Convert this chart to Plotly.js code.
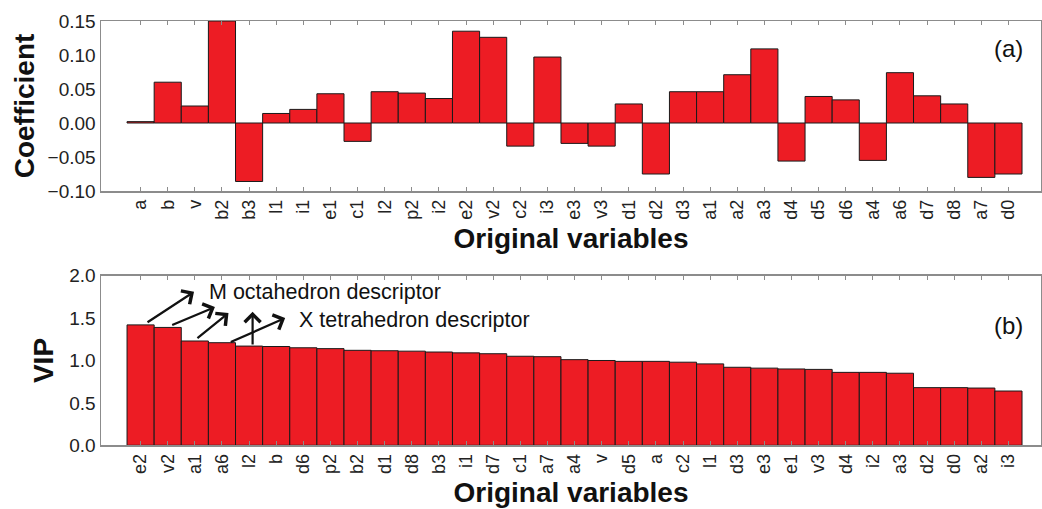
<!DOCTYPE html>
<html>
<head>
<meta charset="utf-8">
<script src="https://cdn.plot.ly/plotly-3.0.1.min.js"></script>
<style>html,body{margin:0;padding:0;background:#fff;}#chart{width:1042px;height:509px;}</style>
</head>
<body>
<div id="chart"></div>
<script>
// Panel (a): regression coefficients
const coefVars = ["a","b","v","b2","b3","l1","i1","e1","c1","l2","p2","i2","e2","v2","c2","i3","e3","v3","d1","d2","d3","a1","a2","a3","d4","d5","d6","a4","a6","d7","d8","a7","d0"];
const coefValues = [0.002,0.060,0.025,0.150,-0.086,0.014,0.020,0.043,-0.027,0.046,0.044,0.036,0.135,0.126,-0.034,0.097,-0.030,-0.034,0.028,-0.075,0.046,0.046,0.071,0.109,-0.056,0.039,0.034,-0.055,0.074,0.040,0.028,-0.080,-0.075];

// Panel (b): VIP scores (sorted)
const vipVars = ["e2","v2","a1","a6","l2","b","d6","p2","b2","d1","d8","b3","i1","d7","c1","a7","a4","v","d5","a","c2","l1","d3","e3","e1","v3","d4","i2","a3","d2","d0","a2","i3"];
const vipValues = [1.42,1.39,1.23,1.21,1.17,1.165,1.15,1.14,1.12,1.115,1.11,1.10,1.09,1.08,1.05,1.045,1.01,1.00,0.99,0.99,0.98,0.96,0.92,0.91,0.90,0.895,0.86,0.86,0.85,0.68,0.68,0.675,0.64];

const barColor = "#ED1C24";
const lineColor = "#8c8c8c";
const fontFam = "Liberation Sans, Arial, sans-serif";

const traces = [
  {type:"bar", x:coefVars, y:coefValues, xaxis:"x", yaxis:"y", width:1,
   marker:{color:barColor, line:{color:"#1a1a1a", width:1}}, hoverinfo:"x+y"},
  {type:"bar", x:vipVars, y:vipValues, xaxis:"x2", yaxis:"y2", width:1,
   marker:{color:barColor, line:{color:"#1a1a1a", width:1}}, hoverinfo:"x+y"}
];

function xAx(anchor){
  return {anchor:anchor, type:"category", range:[-1.46,33.2], showline:true, linecolor:lineColor, linewidth:1.5,
    mirror:"allticks", ticks:"inside", ticklen:4, tickcolor:lineColor, tickwidth:1, tickangle:-90,
    tickfont:{size:18, color:"#222", family:fontFam}, showgrid:false, zeroline:false,
    title:{text:"Original variables", font:{size:28, color:"#111", family:fontFam, weight:"bold"}, standoff:9}};
}

const arrowStyle = {text:"", showarrow:true, arrowhead:4, arrowsize:1.4, arrowwidth:2.2, arrowcolor:"#111", standoff:0, startstandoff:0,
  xref:"x2", yref:"y2", axref:"x2", ayref:"y2"};

const layout = {
  width:1042, height:509,
  margin:{l:101, r:1, t:0, b:0},
  paper_bgcolor:"#fff", plot_bgcolor:"#fff",
  showlegend:false, bargap:0,
  font:{family:fontFam, color:"#222"},
  xaxis: xAx("y"),
  xaxis2: xAx("y2"),
  yaxis:{domain:[0.62475,0.95874], range:[-0.10,0.15], dtick:0.05, tickformat:".2f", showline:true, linecolor:lineColor, linewidth:1.5,
    mirror:true, ticks:"", showgrid:false, zeroline:false, tickfont:{size:19, color:"#222", family:fontFam},
    title:{text:"Coefficient", font:{size:28, color:"#111", family:fontFam, weight:"bold"}, standoff:5}},
  yaxis2:{domain:[0.12515,0.45835], range:[0,2], dtick:0.5, tickformat:".1f", showline:true, linecolor:lineColor, linewidth:1.5,
    mirror:true, ticks:"", showgrid:false, zeroline:false, tickfont:{size:19, color:"#222", family:fontFam},
    title:{text:"VIP", font:{size:28, color:"#111", family:fontFam, weight:"bold"}, standoff:7}},
  annotations:[
    {xref:"x", yref:"y", x:32, y:0.110, text:"(a)", showarrow:false, font:{size:24, color:"#111", family:fontFam}},
    {xref:"x2", yref:"y2", x:32, y:1.418, text:"(b)", showarrow:false, font:{size:24, color:"#111", family:fontFam}},
    {xref:"x2", yref:"y2", x:2.45, y:1.81, xanchor:"left", yanchor:"middle", text:"M octahedron descriptor", showarrow:false, font:{size:21.5, color:"#111", family:fontFam}},
    {xref:"x2", yref:"y2", x:5.76, y:1.477, xanchor:"left", yanchor:"middle", text:"X tetrahedron descriptor", showarrow:false, font:{size:21.5, color:"#111", family:fontFam}},
    Object.assign({x:1.97, y:1.81, ax:0.2, ay:1.44}, arrowStyle),
    Object.assign({x:2.74, y:1.63, ax:1.11, ay:1.41}, arrowStyle),
    Object.assign({x:3.24, y:1.56, ax:2.04, ay:1.25}, arrowStyle),
    Object.assign({x:4.13, y:1.575, ax:4.13, ay:1.17}, arrowStyle),
    Object.assign({x:5.33, y:1.50, ax:3.27, ay:1.21}, arrowStyle)
  ]
};

Plotly.newPlot("chart", traces, layout, {displayModeBar:false, staticPlot:true});
</script>
</body>
</html>
